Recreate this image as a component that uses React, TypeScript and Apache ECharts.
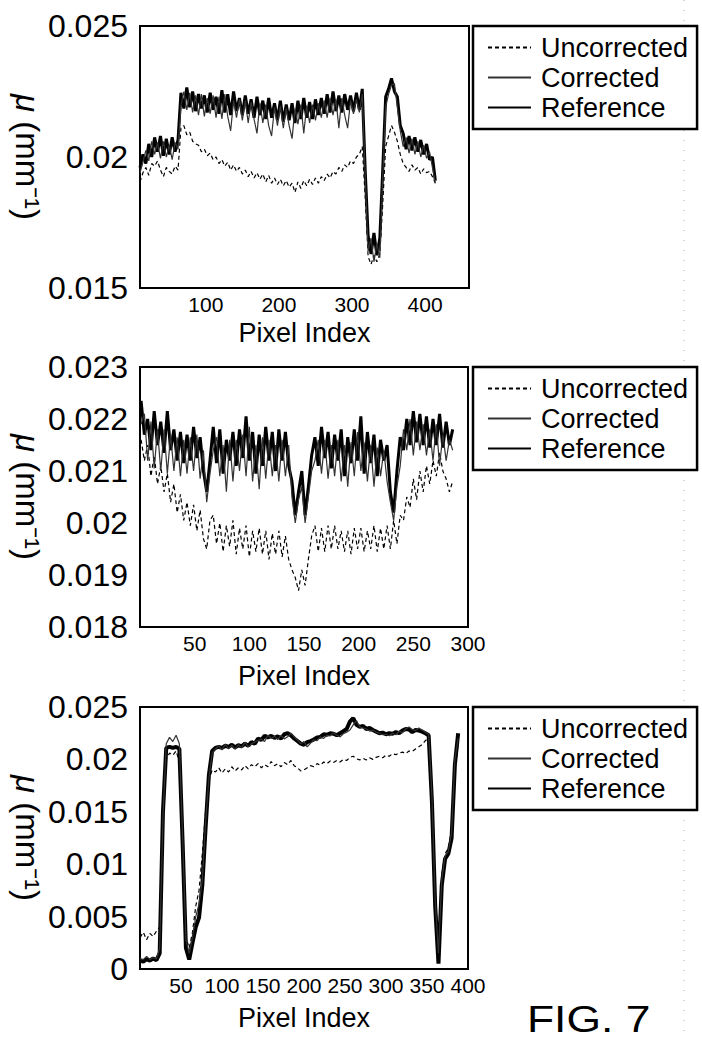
import React, { useEffect, useRef } from "react";
import * as echarts from "echarts";

// ---------- data (μ in mm^-1) ----------
// Panel 1: pixel index 10..414, step 4
const p1Start = 10;
const p1Step = 4;
const p1Ref = [
  0.0196, 0.0201, 0.01975, 0.0205, 0.02, 0.02075, 0.0202, 0.0208, 0.02005, 0.0207,
  0.0201, 0.02075, 0.0202, 0.02065, 0.02245, 0.02185, 0.02265, 0.0219, 0.0225, 0.02175,
  0.0224, 0.02185, 0.02235, 0.0217, 0.02245, 0.0218, 0.0223, 0.02165, 0.02255, 0.0217,
  0.0224, 0.0216, 0.0225, 0.02175, 0.02225, 0.0216, 0.02235, 0.02165, 0.0222, 0.0215,
  0.0223, 0.0216, 0.02215, 0.02145, 0.02225, 0.0215, 0.02205, 0.0214, 0.02215, 0.02135,
  0.022, 0.0214, 0.02205, 0.0213, 0.02215, 0.02145, 0.02225, 0.0215, 0.0221, 0.02145,
  0.0222, 0.0216, 0.02225, 0.02165, 0.0224, 0.0217, 0.0225, 0.02175, 0.02235, 0.0217,
  0.0224, 0.0218, 0.02235, 0.02175, 0.02245, 0.0218, 0.0226, 0.0195, 0.017, 0.0163,
  0.0171, 0.01625, 0.0169, 0.0195, 0.0223, 0.0226, 0.023, 0.0225, 0.0223, 0.0212,
  0.0209, 0.0203, 0.0208, 0.02025, 0.02075, 0.0202, 0.02065, 0.0201, 0.0205, 0.0199,
  0.02, 0.0191,
];
const p1Cor = [
  0.0194, 0.0198, 0.02025, 0.01985, 0.0206, 0.0201, 0.02055, 0.01995, 0.0206, 0.02,
  0.02045, 0.0199, 0.02055, 0.0203, 0.02195, 0.0225, 0.0218, 0.02245, 0.0217, 0.02235,
  0.0216, 0.0224, 0.02155, 0.02225, 0.02165, 0.02235, 0.0215, 0.0223, 0.02145, 0.0224,
  0.02155, 0.021, 0.02215, 0.0215, 0.0222, 0.0214, 0.02215, 0.0213, 0.0221, 0.02145,
  0.0209, 0.02205, 0.0213, 0.022, 0.0212, 0.0208, 0.0219, 0.0212, 0.02195, 0.0211,
  0.02185, 0.0212, 0.0207, 0.02185, 0.02125, 0.022, 0.0209, 0.02195, 0.0213, 0.022,
  0.0214, 0.02205, 0.0215, 0.02215, 0.0215, 0.02225, 0.0216, 0.0222, 0.0211, 0.02225,
  0.0216, 0.0211, 0.02215, 0.02165, 0.0222, 0.0217, 0.0224, 0.0193, 0.0164, 0.0169,
  0.016, 0.0167, 0.01615, 0.0192, 0.0219, 0.0224, 0.02275, 0.0228, 0.0219, 0.021,
  0.0204, 0.02075, 0.02015, 0.0207, 0.0201, 0.0206, 0.02, 0.02045, 0.01995, 0.0202,
  0.0196, 0.019,
];
const p1Unc = [
  0.01905, 0.0194, 0.0196, 0.0193, 0.01975, 0.01965, 0.01985, 0.0195, 0.01925, 0.0196,
  0.01945, 0.01935, 0.01965, 0.0195, 0.0211, 0.0212, 0.02085, 0.02095, 0.0206, 0.0205,
  0.02045, 0.0202, 0.0203, 0.02005, 0.02015, 0.0199, 0.02, 0.01975, 0.0199, 0.01965,
  0.0198, 0.0195, 0.0197, 0.01945, 0.0196, 0.01935, 0.0195, 0.01925, 0.01945, 0.0192,
  0.0194, 0.01915, 0.01935, 0.01905, 0.0193, 0.019, 0.0192, 0.01895, 0.01915, 0.0189,
  0.0191, 0.01885, 0.019, 0.01865, 0.01905, 0.0188, 0.0191, 0.0189, 0.01915, 0.01895,
  0.0192, 0.019, 0.01925, 0.0191, 0.01935, 0.0192, 0.01945, 0.01935, 0.0196, 0.01945,
  0.0197, 0.0196, 0.01985, 0.01975, 0.02, 0.0201, 0.0204, 0.0185, 0.0162, 0.0159,
  0.01625, 0.016, 0.0163, 0.0182, 0.0204, 0.0208, 0.0212, 0.02095, 0.0206, 0.0201,
  0.01975, 0.0196, 0.01945, 0.0197, 0.0195, 0.0196, 0.01935, 0.01955, 0.0194, 0.01945,
  0.01925, 0.019,
];

// Panel 2: pixel index 1..286, step 3
const p2Start = 1;
const p2Step = 3;
const p2Ref = [
  0.02235, 0.0217, 0.022, 0.0214, 0.02215, 0.0215, 0.02195, 0.02135, 0.02215, 0.0214,
  0.0218, 0.0212, 0.02175, 0.02115, 0.0217, 0.0212, 0.02185, 0.02125, 0.02165, 0.021,
  0.0206, 0.0212, 0.02185, 0.02115, 0.0218, 0.02095, 0.0216, 0.0212, 0.02175, 0.0211,
  0.0218, 0.02125, 0.02205, 0.0212, 0.02175, 0.02095, 0.0217, 0.0211, 0.02185, 0.0212,
  0.02175, 0.021, 0.0218, 0.0212, 0.02175, 0.0211, 0.0208, 0.02015, 0.0206, 0.021,
  0.02015, 0.0207, 0.0213, 0.02165, 0.0211, 0.02185, 0.02125, 0.02175, 0.02105, 0.0217,
  0.0212, 0.0218, 0.0209, 0.02165, 0.02115, 0.0218, 0.0212, 0.02205, 0.02095, 0.02175,
  0.02115, 0.0217, 0.0209, 0.0216, 0.0212, 0.0215, 0.0206, 0.0202, 0.021, 0.02165,
  0.0214, 0.022, 0.0215, 0.02215, 0.02155, 0.0221, 0.0215, 0.02205, 0.02145, 0.022,
  0.0215, 0.0221, 0.02145, 0.02195, 0.0215, 0.0218,
];
const p2Cor = [
  0.0219, 0.0221, 0.0212, 0.02195, 0.02105, 0.0218, 0.021, 0.0218, 0.02095, 0.0217,
  0.021, 0.02165, 0.0209, 0.0216, 0.02095, 0.02165, 0.021, 0.0217, 0.02085, 0.0214,
  0.0204, 0.02095, 0.0214, 0.02165, 0.0209, 0.0215, 0.0206, 0.0216, 0.0208, 0.0216,
  0.021, 0.0217, 0.0209, 0.02185, 0.0208, 0.0215, 0.02065, 0.02165, 0.02085, 0.0216,
  0.0209, 0.0215, 0.0208, 0.0216, 0.0209, 0.0215, 0.0205, 0.02, 0.02045, 0.0207,
  0.02, 0.0205, 0.021, 0.0212, 0.0216, 0.02095, 0.0216, 0.02085, 0.0215, 0.0209,
  0.0216, 0.0208, 0.0215, 0.0207, 0.02155, 0.0209, 0.02175, 0.021, 0.02155, 0.0208,
  0.0215, 0.0207, 0.02145, 0.0209, 0.0214, 0.0208, 0.0204, 0.02005, 0.0207, 0.0211,
  0.0218, 0.0214, 0.022, 0.0213, 0.02195, 0.0214, 0.0219, 0.0213, 0.0218, 0.0212,
  0.0219, 0.0211, 0.0217, 0.0212, 0.0216, 0.0214,
];
const p2Unc = [
  0.0216, 0.0212, 0.0215, 0.0209, 0.0213, 0.02075, 0.0211, 0.0206, 0.02095, 0.0204,
  0.02075, 0.0202, 0.02055, 0.02005, 0.0204, 0.01995, 0.02035, 0.01985, 0.02025, 0.0197,
  0.0195, 0.02005, 0.02015, 0.0196, 0.02, 0.01945, 0.01995, 0.01955, 0.02005, 0.0194,
  0.0199, 0.0195, 0.01995, 0.01935, 0.01985, 0.01945, 0.0199, 0.0194, 0.01985, 0.0193,
  0.0198, 0.0194, 0.01985, 0.01935, 0.01975, 0.0193, 0.0191, 0.01895, 0.0187, 0.0191,
  0.0188, 0.0193, 0.01975, 0.01995, 0.01945, 0.0199, 0.01945, 0.01995, 0.0195, 0.01995,
  0.0195, 0.01985, 0.01945, 0.01985, 0.0194, 0.0199, 0.0195, 0.0199, 0.01945, 0.01985,
  0.0195, 0.01995, 0.01945, 0.0199, 0.0195, 0.01995, 0.0195, 0.02005, 0.0196, 0.02015,
  0.02005, 0.0205, 0.0203, 0.02085, 0.02045, 0.021, 0.0206, 0.0211, 0.02075, 0.0212,
  0.0209, 0.02135, 0.021, 0.02085, 0.0206, 0.0208,
];

// Panel 3: pixel index 0..388, step 4
const p3Start = 0;
const p3Step = 4;
const p3Ref = [
  0.0008, 0.0007, 0.00095, 0.0008, 0.001, 0.00085, 0.0015, 0.015, 0.0211, 0.0212,
  0.0211, 0.0212, 0.021, 0.012, 0.002, 0.0009, 0.0025, 0.004, 0.0049, 0.008,
  0.0135, 0.0185, 0.0208, 0.0211, 0.0212, 0.0211, 0.0213, 0.0212, 0.0214, 0.02115,
  0.02135, 0.02125, 0.0215, 0.0213, 0.02165, 0.0215, 0.022, 0.02185, 0.02225, 0.0221,
  0.02225, 0.02205, 0.0222, 0.022, 0.0224, 0.0225, 0.0223, 0.022, 0.02175, 0.0215,
  0.0214, 0.02165, 0.02175, 0.0219, 0.0221, 0.02215, 0.0224, 0.02235, 0.0225, 0.02245,
  0.0223, 0.0225, 0.0227, 0.0229, 0.0236, 0.02395, 0.0233, 0.0231, 0.0232, 0.0229,
  0.023, 0.0228, 0.02265, 0.0225, 0.02255, 0.0224, 0.0225, 0.02245, 0.0226, 0.0225,
  0.02275, 0.0229, 0.02285, 0.0226, 0.0228, 0.02275, 0.02265, 0.0225, 0.0223, 0.016,
  0.006, 0.0005, 0.008, 0.0105, 0.011, 0.0125, 0.0195, 0.0225,
];
const p3Cor = [
  0.001, 0.0009, 0.0012, 0.0009, 0.0011, 0.00095, 0.002, 0.0145, 0.0215, 0.0221,
  0.0217, 0.0223, 0.0215, 0.0125, 0.0028, 0.0015, 0.003, 0.005, 0.0062, 0.0085,
  0.014, 0.0182, 0.0206, 0.021, 0.0213, 0.0209, 0.02145, 0.021, 0.02135, 0.02095,
  0.0214, 0.0211, 0.02165, 0.0212, 0.0215, 0.02165, 0.0218, 0.02195, 0.0217, 0.0223,
  0.022, 0.0222, 0.0219, 0.0223, 0.02195, 0.02215, 0.0225, 0.02215, 0.02185, 0.0215,
  0.0217, 0.0212, 0.02155, 0.02185, 0.0218, 0.02215, 0.022, 0.0223, 0.02225, 0.02255,
  0.0223, 0.02215, 0.02245, 0.0226, 0.0228, 0.0233, 0.0237, 0.0231, 0.023, 0.0229,
  0.0227, 0.0228, 0.0226, 0.0225, 0.02235, 0.0224, 0.02225, 0.0225, 0.02235, 0.0227,
  0.02255, 0.0229, 0.0231, 0.02285, 0.02275, 0.023, 0.0228, 0.0226, 0.0224, 0.0165,
  0.0065, 0.0015, 0.0085, 0.0108, 0.0112, 0.013, 0.02, 0.022,
];
const p3Unc = [
  0.003, 0.0035, 0.0028, 0.0034, 0.0031, 0.0036, 0.004, 0.0135, 0.02, 0.0206,
  0.0204, 0.0208, 0.0198, 0.0115, 0.003, 0.002, 0.0035, 0.006, 0.0075, 0.011,
  0.015, 0.018, 0.019, 0.0188, 0.0192, 0.0187, 0.0191, 0.0188, 0.0193, 0.0189,
  0.0192, 0.019, 0.0194, 0.0191, 0.0195, 0.0193, 0.0196, 0.0192, 0.0195, 0.0193,
  0.0198, 0.0194, 0.0196, 0.0193, 0.0197, 0.0195, 0.0199, 0.0194, 0.0192, 0.0189,
  0.019, 0.0192, 0.0194, 0.0193, 0.0196, 0.01945, 0.01975, 0.0196, 0.01985, 0.0197,
  0.0199, 0.01975, 0.02, 0.0199, 0.0202, 0.0203, 0.02005, 0.01995, 0.0201, 0.01995,
  0.02015, 0.02, 0.0202, 0.0203, 0.02015, 0.0204, 0.0203, 0.02055, 0.02045, 0.0206,
  0.0207, 0.02055, 0.0208, 0.02075, 0.021, 0.0212, 0.0214, 0.0218, 0.022, 0.017,
  0.007, 0.0025, 0.009, 0.011, 0.0115, 0.0135, 0.019, 0.0215,
];

// axis ranges and tick labels
const xRanges = [
  [10, 460],
  [0, 300],
  [0, 400],
];
const xTicks = [
  [100, 200, 300, 400],
  [50, 100, 150, 200, 250, 300],
  [50, 100, 150, 200, 250, 300, 350, 400],
];
const yRanges = [
  [0.015, 0.025],
  [0.018, 0.023],
  [0, 0.025],
];
const yTicks = [
  [0.015, 0.02, 0.025],
  [0.018, 0.019, 0.02, 0.021, 0.022, 0.023],
  [0, 0.005, 0.01, 0.015, 0.02, 0.025],
];
const seriesNames = ["Uncorrected", "Corrected", "Reference"];
const xName = "Pixel Index";
const yName = "{mu|μ} (mm⁻¹)";
const figLabel = "FIG. 7";

const SANS = "'Liberation Sans', Arial, Helvetica, sans-serif";

function toPairs(start: number, step: number, vals: number[]) {
  return vals.map((v, i) => [start + step * i, v]);
}

export default function App() {
  const ref = useRef<HTMLDivElement>(null);
  useEffect(() => {
    document.body.style.margin = "0";
    if (!ref.current) return;
    const chart = echarts.init(ref.current, undefined, { renderer: "svg" });

    const grids = [
      { left: 140, top: 26, width: 329, height: 262 },
      { left: 140, top: 367, width: 328, height: 260 },
      { left: 140, top: 707, width: 328, height: 262 },
    ];
    const nameGaps = [31, 35, 35];
    const refWidths = [3, 3, 4];

    const panels = [
      { start: p1Start, step: p1Step, unc: p1Unc, cor: p1Cor, ref: p1Ref },
      { start: p2Start, step: p2Step, unc: p2Unc, cor: p2Cor, ref: p2Ref },
      { start: p3Start, step: p3Step, unc: p3Unc, cor: p3Cor, ref: p3Ref },
    ];

    const series: any[] = [];
    panels.forEach((p, gi) => {
      series.push({
        name: seriesNames[0],
        type: "line",
        xAxisIndex: gi,
        yAxisIndex: gi,
        data: toPairs(p.start, p.step, p.unc),
        symbol: "none",
        lineStyle: { color: "#000", width: 1.2, type: [4, 3] },
        itemStyle: { color: "#000" },
        silent: true,
      });
      series.push({
        name: seriesNames[2],
        type: "line",
        xAxisIndex: gi,
        yAxisIndex: gi,
        data: toPairs(p.start, p.step, p.ref),
        symbol: "none",
        lineStyle: { color: "#000", width: refWidths[gi] },
        itemStyle: { color: "#000" },
        silent: true,
      });
      series.push({
        name: seriesNames[1],
        type: "line",
        xAxisIndex: gi,
        yAxisIndex: gi,
        data: toPairs(p.start, p.step, p.cor),
        symbol: "none",
        lineStyle: { color: "#333", width: 1.2 },
        itemStyle: { color: "#333" },
        silent: true,
      });
    });

    const option: any = {
      animation: false,
      backgroundColor: "#fff",
      grid: grids.map((g) => ({
        ...g,
        show: true,
        borderColor: "#000",
        borderWidth: 2,
        backgroundColor: "transparent",
        containLabel: false,
      })),
      xAxis: grids.map((g, i) => ({
        type: "value",
        gridIndex: i,
        min: xRanges[i][0],
        max: xRanges[i][1],
        axisLine: { show: false },
        axisTick: { show: false, customValues: xTicks[i] },
        splitLine: { show: false },
        axisLabel: {
          customValues: xTicks[i],
          color: "#000",
          fontFamily: SANS,
          fontSize: 21,
          margin: 6,
        },
        name: xName,
        nameLocation: "middle",
        nameGap: nameGaps[i],
        nameTextStyle: { color: "#000", fontFamily: SANS, fontSize: 27 },
      })),
      yAxis: grids.map((g, i) => ({
        type: "value",
        gridIndex: i,
        min: yRanges[i][0],
        max: yRanges[i][1],
        axisLine: { show: false },
        axisTick: { show: false, customValues: yTicks[i] },
        splitLine: { show: false },
        axisLabel: {
          customValues: yTicks[i],
          color: "#000",
          fontFamily: SANS,
          fontSize: 32,
          margin: 12,
        },
        name: yName,
        nameLocation: "middle",
        nameRotate: -90,
        nameGap: 89,
        nameTextStyle: {
          color: "#000",
          fontFamily: SANS,
          fontSize: 33,
          rich: {
            mu: { fontFamily: SANS, fontSize: 33, fontStyle: "italic", color: "#000" },
          },
        },
      })),
      legend: grids.map((g) => ({
        left: 473,
        top: g.top,
        orient: "vertical",
        data: seriesNames,
        selectedMode: false,
        padding: [7, 9, 7, 14],
        itemWidth: 43,
        itemHeight: 12,
        itemGap: 1,
        itemStyle: { opacity: 0 },
        borderColor: "#000",
        borderWidth: 2.5,
        backgroundColor: "#fff",
        textStyle: { color: "#000", fontFamily: SANS, fontSize: 27, lineHeight: 29, padding: [0, 0, 0, 5] },
      })),
      graphic: [
        {
          type: "line",
          shape: { x1: 684, y1: 0, x2: 684, y2: 1040 },
          style: { stroke: "#aaa", lineWidth: 1, lineDash: [1, 9] },
          silent: true,
        },
        {
          type: "text",
          x: 527,
          y: 1001,
          scaleX: 1.2,
          style: {
            text: figLabel,
            fontFamily: SANS,
            fontSize: 37,
            fill: "#000",
            align: "left",
            verticalAlign: "top",
          },
          silent: true,
        },
      ],
      series,
    };
    chart.setOption(option);
    return () => chart.dispose();
  }, []);
  return <div ref={ref} style={{ width: 702, height: 1040 }} />;
}
